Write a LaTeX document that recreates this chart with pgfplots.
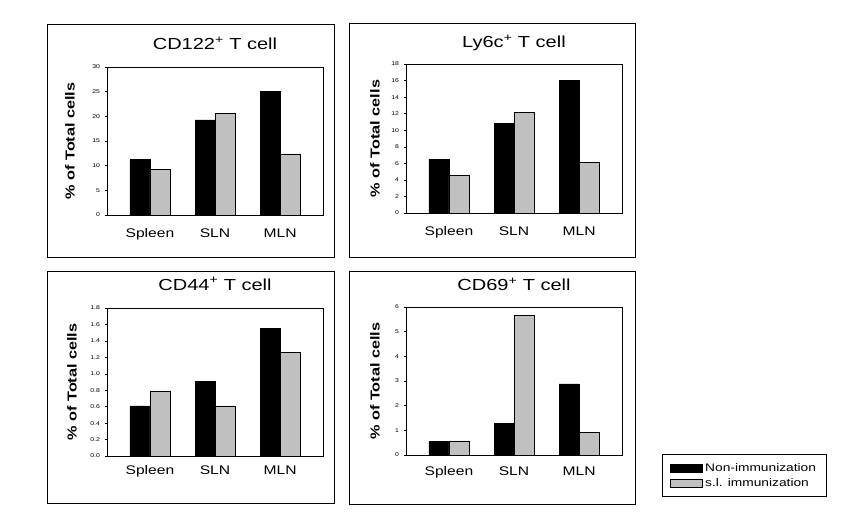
\documentclass[border=0pt]{standalone}
\usepackage{fontspec}
\setmainfont{Liberation Sans}[FakeStretch=1.25]
\usepackage{pgfplots}
\usepackage{pgfplotstable}
\pgfplotsset{compat=1.18}
\definecolor{barGray}{RGB}{192,192,192}

\pgfplotstableread{
x non sl
0 11.2 9.2
1 19.3 20.6
2 25.0 12.4
}\tabA
\pgfplotstableread{
x non sl
0 6.5 4.5
1 10.8 12.2
2 16.0 6.1
}\tabB
\pgfplotstableread{
x non sl
0 0.61 0.79
1 0.91 0.61
2 1.55 1.26
}\tabC
\pgfplotstableread{
x non sl
0 0.55 0.57
1 1.27 5.65
2 2.88 0.93
}\tabD

\pgfplotsset{
  panel/.style={
    scale only axis,
    width=216pt, height=148pt,
    anchor=south west,
    ybar=0pt, bar width=20pt,
    xmin=-0.66, xmax=2.66,
    xtick={0,1,2}, xticklabels={Spleen,SLN,MLN},
    x tick style={draw=none},
    ymin=0,
    axis line style={black, line width=0.7pt},
    ytick pos=left,
    tick align=outside,
    major tick length=2.5pt,
    y tick style={black, line width=0.5pt},
    /pgf/number format/assume math mode=true,
    yticklabel style={font=\fontsize{5.5}{6}\selectfont, xshift=-1pt},
    xticklabel style={font=\fontsize{12.5}{14}\selectfont, anchor=base},
    ylabel={\bfseries\% of Total cells},
    ylabel style={font=\fontsize{13}{15}\selectfont, at={(axis description cs:-0.171,0.5)}, anchor=center},
    title style={font=\fontsize{16}{18}\selectfont, anchor=base},
    clip=false,
  },
  nonbar/.style={fill=black, draw=black, line width=0.5pt},
  slbar/.style={fill=barGray, draw=black, line width=0.5pt},
}

\begin{document}
\begin{tikzpicture}[x=1pt,y=1pt]
\useasboundingbox (0,0) rectangle (859,528);
% panel frames
\draw[black, line width=0.6pt] (47,271) rectangle (334,504);
\draw[black, line width=0.6pt] (349,271) rectangle (635,505);
\draw[black, line width=0.6pt] (47,25) rectangle (334,257);
\draw[black, line width=0.6pt] (349,24) rectangle (635,257);

\begin{axis}[panel, at={(107pt,313pt)}, ymax=30, ytick={0,5,...,30},
  xticklabel style={yshift=-20pt},
  title={CD122\textsuperscript{+} T cell},
  title style={at={(axis description cs:0.5,1.075)}}]
\addplot[nonbar] table[x=x,y=non]{\tabA};
\addplot[slbar] table[x=x,y=sl]{\tabA};
\end{axis}

\begin{axis}[panel, at={(406pt,315pt)}, height=149pt, ymax=18, ytick={0,2,...,18},
  xticklabel style={yshift=-20pt},
  ylabel style={at={(axis description cs:-0.144,0.5)}},
  title={Ly6c\textsuperscript{+} T cell},
  title style={at={(axis description cs:0.5,1.068)}}]
\addplot[nonbar] table[x=x,y=non]{\tabB};
\addplot[slbar] table[x=x,y=sl]{\tabB};
\end{axis}

\begin{axis}[panel, at={(107pt,72pt)}, ymax=1.8, ytick={0,0.2,...,1.8},
  yticklabel style={/pgf/number format/.cd, fixed, fixed zerofill, precision=1},
  xticklabel style={yshift=-16pt},
  ylabel style={at={(axis description cs:-0.162,0.5)}},
  title={CD44\textsuperscript{+} T cell},
  title style={at={(axis description cs:0.5,1.08)}}]
\addplot[nonbar] table[x=x,y=non]{\tabC};
\addplot[slbar] table[x=x,y=sl]{\tabC};
\end{axis}

\begin{axis}[panel, at={(406pt,73pt)}, ymax=6, ytick={0,1,...,6},
  xticklabel style={yshift=-18pt},
  ylabel style={at={(axis description cs:-0.144,0.5)}},
  title={CD69\textsuperscript{+} T cell},
  title style={at={(axis description cs:0.5,1.068)}},
  legend style={at={(axis description cs:1.185,0.007)}, anchor=north west,
    draw=black, line width=0.5pt, font=\fontsize{11}{12}\selectfont,
    inner xsep=7.5pt, inner ysep=8pt, row sep=3.5pt,
    nodes={inner xsep=3pt, inner ysep=1pt}},
  legend cell align=left,
  legend image code/.code={\draw[#1] (0pt,-4pt) rectangle (32pt,4pt);}]
\addplot[nonbar] table[x=x,y=non]{\tabD};
\addplot[slbar] table[x=x,y=sl]{\tabD};
\legend{Non-immunization, s.l. immunization}
\end{axis}
\end{tikzpicture}
\end{document}
